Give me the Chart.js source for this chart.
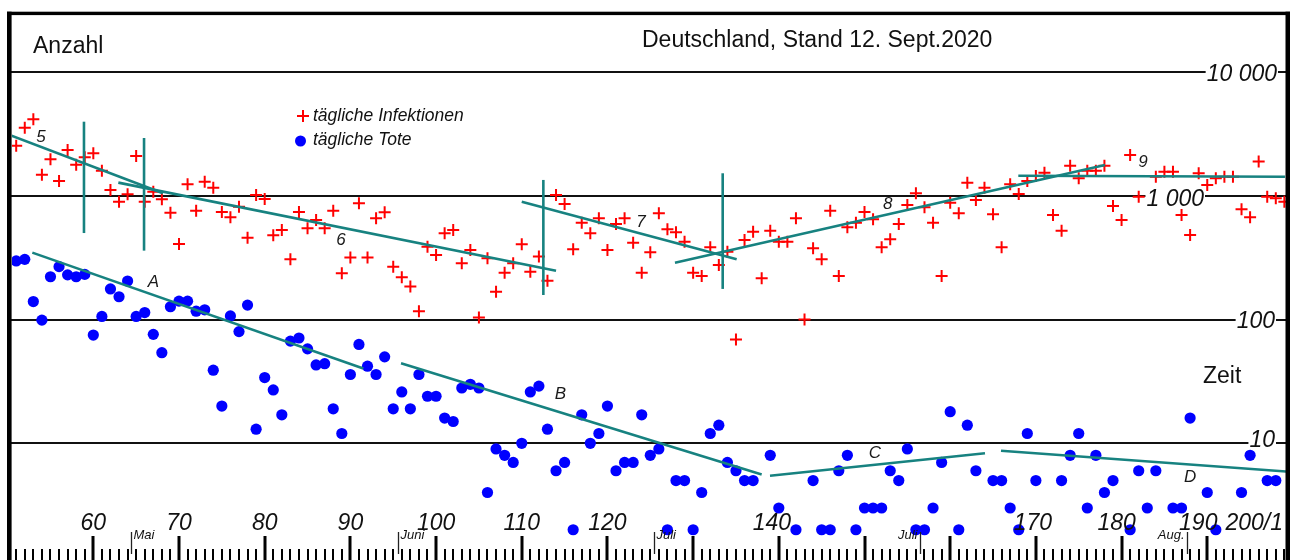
<!DOCTYPE html>
<html>
<head>
<meta charset="utf-8">
<title>Deutschland, Stand 12. Sept.2020</title>
<script src="https://cdn.jsdelivr.net/npm/chart.js@4.4.1/dist/chart.umd.min.js"></script>
<style>
  html, body { margin: 0; padding: 0; background: #fff; }
  #wrap { width: 1293px; height: 560px; position: relative; }
  canvas { display: block; }
</style>
</head>
<body>
<div id="wrap"><canvas id="chart" width="1293" height="560"></canvas></div>
<script>
// Day numbers (x axis)
const days = [
  51,52,53,54,55,56,57,58,59,60,61,62,63,64,65,66,67,68,69,70,
  71,72,73,74,75,76,77,78,79,80,81,82,83,84,85,86,87,88,89,90,
  91,92,93,94,95,96,97,98,99,100,101,102,103,104,105,106,107,108,109,110,
  111,112,113,114,115,116,117,118,119,120,121,122,123,124,125,126,127,128,129,130,
  131,132,133,134,135,136,137,138,139,140,141,142,143,144,145,146,147,148,149,150,
  151,152,153,154,155,156,157,158,159,160,161,162,163,164,165,166,167,168,169,170,
  171,172,173,174,175,176,177,178,179,180,181,182,183,184,185,186,187,188,189,190,
  191,192,193,194,195,196,197,198,199
];

// tägliche Infektionen
const dailyInfections = [
  2546,3557,4160,1483,1977,1318,2350,1786,2050,2208,1600,1117,898,1030,2104,898,1082,938,731,408,
  1241,759,1303,1164,741,671,819,459,1017,944,480,530,307,741,547,638,547,759,237,317,
  871,317,659,736,268,220,185,117,388,333,499,530,285,365,104,313,168,239,285,406,
  244,323,206,1017,861,370,607,499,659,365,593,659,419,239,350,723,537,508,426,239,
  225,384,276,354,69,440,514,216,523,426,426,659,100,377,307,759,225,557,607,741,
  647,384,446,593,845,1050,809,607,225,881,723,1280,927,1164,710,384,1241,1035,1318,1449,
  1541,701,523,1754,1387,1600,1600,1754,828,638,2143,986,null,1430,1570,1570,701,483,1524,1225,
  1387,1430,1430,780,671,1893,986,957,898
];

// tägliche Tote
const dailyDeaths = [
  298,307,140,99,222,268,230,222,232,75,106,177,153,205,106,114,76,54,127,141,
  141,117,120,39,20,107,80,131,13,34,27,17,67,71,58,43,44,19,12,36,
  63,42,36,50,19,26,19,36,24,24,16,15,28,30,28,4,9,8,7,10,
  26,29,13,6,7,2,17,10,12,20,6,7,7,17,8,9,2,5,5,2,
  4,12,14,7,6,5,5,null,8,3,null,2,null,5,2,2,6,8,2,3,
  3,3,6,5,9,2,2,3,7,18,2,14,6,null,5,5,3,2,12,5,
  null,null,5,8,12,3,8,4,5,null,2,6,3,6,null,3,3,16,null,4,
  2,null,null,4,8,null,5,5,null
];

// Trend segments: [day, value] start and end
const trend5 = [[50.28, 3105], [68.13, 1050]];
const trend6 = [[62.92, 1280], [114.0, 248]];
const trend7 = [[110.0, 898], [135.08, 307]];
const trend8 = [[127.88, 288], [178.07, 1778]];
const trend9 = [[167.95, 1456], [199.07, 1430]];
const trendA = [[52.88, 348], [91.51, 40.3]];
const trendB = [[95.91, 44.4], [138.0, 5.6]];
const trendC = [[138.97, 5.47], [164.06, 8.3]];
const trendD = [[165.93, 8.71], [199.65, 5.89]];

// Phase boundaries: [day, lower value, upper value]
const phaseMarks = [
  [58.91, 501, 3981],
  [65.92, 361, 2938],
  [112.52, 158, 1346],
  [133.45, 177, 1524]
];

// Segment names and their anchor [day, value]
const segmentNames = ['5', '6', '7', '8', '9', 'A', 'B', 'C', 'D'];
const segmentAnchors = [
  [53.9, 2993], [88.9, 440], [123.9, 607], [152.7, 861], [182.5, 1870],
  [67.0, 202], [114.5, 25], [151.2, 8.3], [188.0, 5.3]
];

// Axis texts
const yGridValues = [10000, 1000, 100, 10];
const yGridLabels = ['10 000', '1 000', '100', '10'];
const xLabelDays = [60, 70, 80, 90, 100, 110, 120, 140, 170, 180, 190];
const xLabelTexts = ['60', '70', '80', '90', '100', '110', '120', '140', '170', '180', '190'];
const monthNames = ['Mai', 'Juni', 'Juli', 'Juli', 'Aug.'];
const monthDays = [64.4, 95.5, 125.4, 156.5, 187.6];

const TEAL = '#178280';
const RED = '#ff0000';
const BLUE = '#0000ff';
const FONT = '"Liberation Sans", Arial, sans-serif';

function pts(list) { return list.map(p => ({ x: p[0], y: p[1] })); }

function trendSet(seg) {
  return {
    type: 'line', data: pts(seg), borderColor: TEAL, borderWidth: 2.6,
    pointRadius: 0, fill: false, order: 0, tension: 0
  };
}

const datasets = [];
[trend5, trend6, trend7, trend8, trend9, trendA, trendB, trendC, trendD]
  .forEach(s => datasets.push(trendSet(s)));
phaseMarks.forEach(m => datasets.push(trendSet([[m[0], m[1]], [m[0], m[2]]])));

datasets.push({
  label: 'tägliche Infektionen',
  data: days.map((d, i) => ({ x: d, y: dailyInfections[i] })).filter(p => p.y !== null),
  pointStyle: 'cross', pointRadius: 6, borderColor: RED, borderWidth: 2,
  showLine: false, order: 2
});
datasets.push({
  label: 'tägliche Tote',
  data: days.map((d, i) => ({ x: d, y: dailyDeaths[i] })).filter(p => p.y !== null),
  pointStyle: 'circle', pointRadius: 5.6, backgroundColor: BLUE, borderWidth: 0,
  showLine: false, order: 1
});

const decor = {
  id: 'decor',
  beforeDatasetsDraw(chart) {
    const { ctx, chartArea: a, scales: { y } } = chart;
    ctx.save();
    // decade lines
    ctx.strokeStyle = '#111';
    ctx.lineWidth = 2;
    yGridValues.forEach(v => {
      const py = Math.round(y.getPixelForValue(v));
      ctx.beginPath();
      ctx.moveTo(a.left - 2, py);
      ctx.lineTo(a.right + 2, py);
      ctx.stroke();
    });
    // decade labels, set into the lines
    const rightEdge = { '10 000': 1277, '1 000': 1204, '100': 1275, '10': 1275 };
    const drop = { '10 000': 8.5, '1 000': 10, '100': 8, '10': 4 };
    ctx.font = 'italic 23px ' + FONT;
    ctx.textAlign = 'right';
    ctx.textBaseline = 'alphabetic';
    yGridValues.forEach((v, i) => {
      const t = yGridLabels[i];
      const py = y.getPixelForValue(v);
      const w = ctx.measureText(t).width;
      ctx.fillStyle = '#fff';
      ctx.fillRect(rightEdge[t] - w - 1, py - 6, w + 2, 12);
      ctx.fillStyle = '#111';
      ctx.fillText(t, rightEdge[t], py + drop[t]);
    });
    ctx.restore();
  },
  afterDatasetsDraw(chart) {
    const { ctx, scales: { x, y } } = chart;
    ctx.save();
    ctx.font = 'italic 17px ' + FONT;
    ctx.fillStyle = '#1a1a1a';
    ctx.textAlign = 'center';
    ctx.textBaseline = 'middle';
    segmentNames.forEach((n, i) => {
      ctx.fillText(n, x.getPixelForValue(segmentAnchors[i][0]), y.getPixelForValue(segmentAnchors[i][1]));
    });
    ctx.restore();
  },
  afterDraw(chart) {
    const { ctx, chartArea: a, scales: { x } } = chart;
    ctx.save();
    // day ruler: one tick per day, taller every ten days
    ctx.fillStyle = '#000';
    for (let d = Math.ceil(x.min); d <= Math.floor(x.max); d++) {
      const px = Math.round(x.getPixelForValue(d));
      if (d % 10 === 0) ctx.fillRect(px - 1.5, 536, 3, 24);
      else ctx.fillRect(px - 1, 549, 2, 11);
    }
    // day numbers
    const nudge = { 140: -7, 170: -3, 180: -5, 190: -9 };
    ctx.font = 'italic 23px ' + FONT;
    ctx.fillStyle = '#111';
    ctx.textBaseline = 'alphabetic';
    ctx.textAlign = 'center';
    xLabelDays.forEach((d, i) => {
      ctx.fillText(xLabelTexts[i], x.getPixelForValue(d) + (nudge[d] || 0), 530);
    });
    ctx.textAlign = 'right';
    ctx.fillText('200/1', a.right - 3, 530);
    // month marks
    ctx.font = 'italic 13px ' + FONT;
    ctx.strokeStyle = '#222';
    ctx.lineWidth = 1.3;
    monthDays.forEach((d, i) => {
      const px = Math.round(x.getPixelForValue(d)) + 0.5;
      ctx.beginPath();
      ctx.moveTo(px, 532);
      ctx.lineTo(px, 554);
      ctx.stroke();
      if (i < 3) { ctx.textAlign = 'left'; ctx.fillText(monthNames[i], px + 2, 539); }
      else { ctx.textAlign = 'right'; ctx.fillText(monthNames[i], px - 3, 539); }
    });
    // headings
    ctx.font = '23px ' + FONT;
    ctx.textAlign = 'left';
    ctx.fillStyle = '#111';
    ctx.fillText('Anzahl', 33, 53);
    ctx.fillText('Deutschland, Stand 12. Sept.2020', 642, 47);
    ctx.fillText('Zeit', 1203, 383);
    // legend
    ctx.strokeStyle = RED;
    ctx.lineWidth = 2;
    ctx.beginPath();
    ctx.moveTo(297, 116); ctx.lineTo(309, 116);
    ctx.moveTo(303, 110); ctx.lineTo(303, 122);
    ctx.stroke();
    ctx.fillStyle = BLUE;
    ctx.beginPath();
    ctx.arc(300.5, 141, 5.5, 0, Math.PI * 2);
    ctx.fill();
    ctx.fillStyle = '#111';
    ctx.font = 'italic 17.5px ' + FONT;
    ctx.fillText('tägliche Infektionen', 313, 121);
    ctx.fillText('tägliche Tote', 313, 145);
    // frame
    ctx.fillStyle = '#000';
    ctx.fillRect(7, 11.7, 4.6, 560 - 11.7);
    ctx.fillRect(7, 11.7, 1283, 3.4);
    ctx.fillRect(1285.5, 11.7, 4.5, 560 - 11.7);
    ctx.restore();
  }
};

new Chart(document.getElementById('chart'), {
  type: 'scatter',
  data: { datasets },
  options: {
    responsive: false,
    animation: false,
    layout: { autoPadding: false, padding: { left: 12, right: 7, top: 15, bottom: 0 } },
    plugins: { legend: { display: false }, tooltip: { enabled: false } },
    scales: {
      x: { type: 'linear', min: 50.51, max: 199.19, bounds: 'data', display: false },
      y: { type: 'logarithmic', min: 1.1391, max: 29007, bounds: 'data', display: false }
    }
  },
  plugins: [decor]
});
</script>
</body>
</html>
